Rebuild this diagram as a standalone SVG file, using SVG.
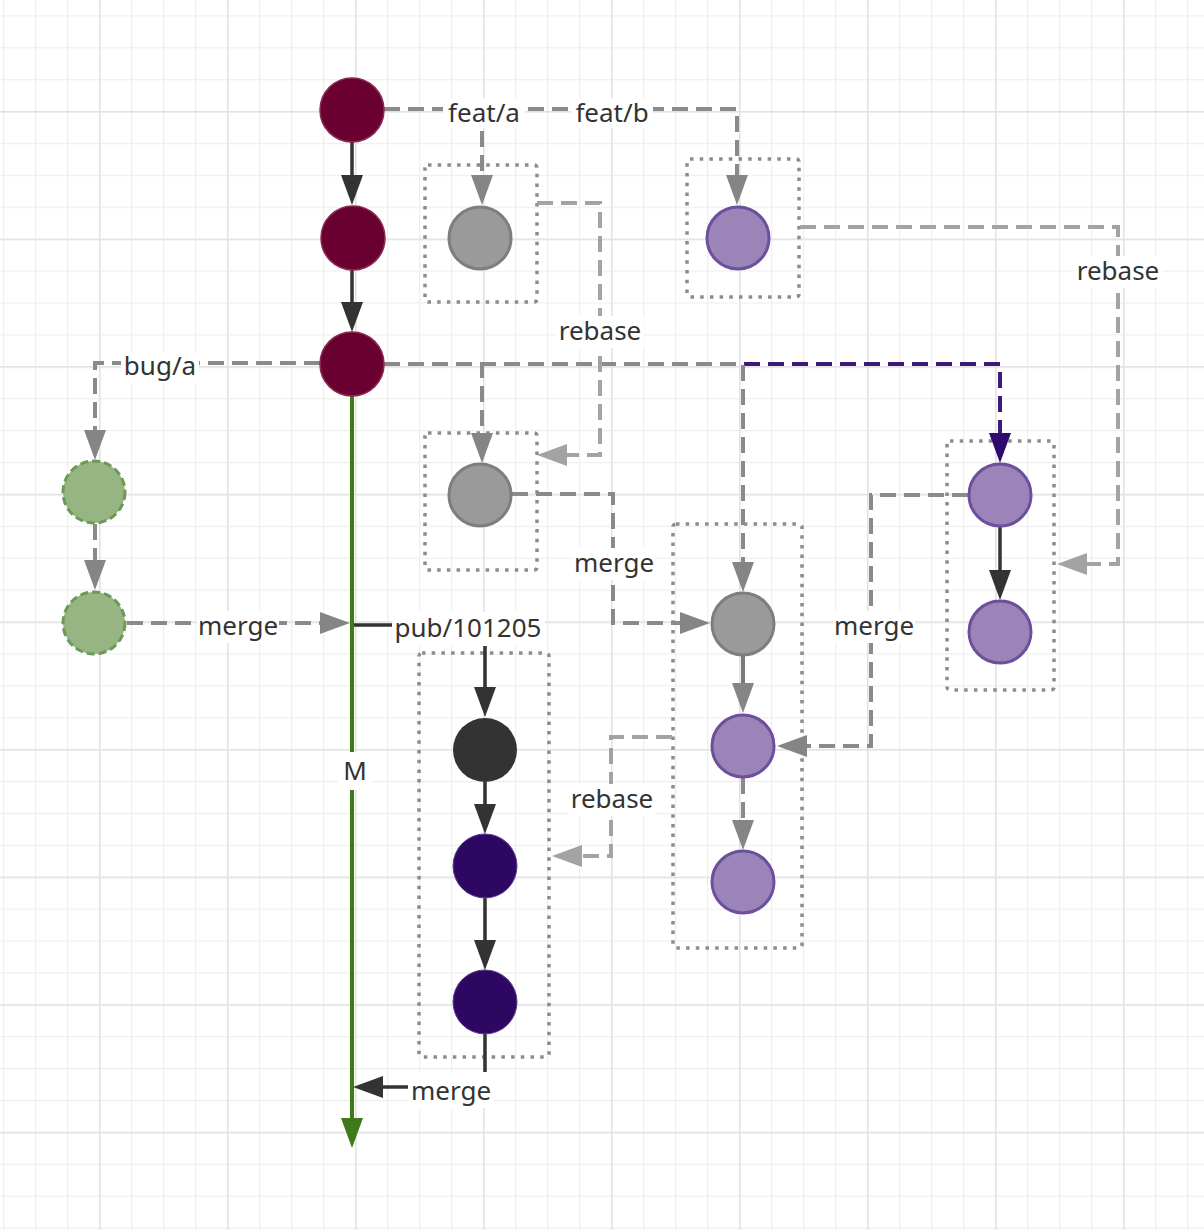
<svg xmlns="http://www.w3.org/2000/svg" width="1204" height="1230" viewBox="0 0 1204 1230">
<defs>
<pattern id="minor" width="32" height="31.9" patternUnits="userSpaceOnUse" x="3" y="15.3">
<path d="M0.5,0 V31.9 M0,0.5 H32" fill="none" stroke="#efefef" stroke-width="1.5"/>
</pattern>
<pattern id="major" width="128" height="127.6" patternUnits="userSpaceOnUse" x="99" y="111">
<path d="M0.5,0 V127.6 M0,0.5 H128" fill="none" stroke="#e2e2e2" stroke-width="2"/>
</pattern>
<marker id="aDark" markerUnits="userSpaceOnUse" markerWidth="30" markerHeight="22" refX="22" refY="11" orient="auto" viewBox="0 0 30 22"><path d="M0,0 L30,11 L0,22 z" fill="#333333"/></marker>
<marker id="aGray" markerUnits="userSpaceOnUse" markerWidth="30" markerHeight="22" refX="22" refY="11" orient="auto" viewBox="0 0 30 22"><path d="M0,0 L30,11 L0,22 z" fill="#858585"/></marker>
<marker id="aLight" markerUnits="userSpaceOnUse" markerWidth="30" markerHeight="22" refX="22" refY="11" orient="auto" viewBox="0 0 30 22"><path d="M0,0 L30,11 L0,22 z" fill="#a3a3a3"/></marker>
<marker id="aPurple" markerUnits="userSpaceOnUse" markerWidth="30" markerHeight="22" refX="22" refY="11" orient="auto" viewBox="0 0 30 22"><path d="M0,0 L30,11 L0,22 z" fill="#2e0a6e"/></marker>
<marker id="aGreen" markerUnits="userSpaceOnUse" markerWidth="30" markerHeight="22" refX="22" refY="11" orient="auto" viewBox="0 0 30 22"><path d="M0,0 L30,11 L0,22 z" fill="#3d7a1a"/></marker>
</defs>
<style>
.c{fill:none;stroke-width:4}
.dash{stroke-dasharray:16 8}
.gray{stroke:#8a8a8a}
.light{stroke:#a3a3a3}
.dark{stroke:#333333;stroke-width:3.5}
.purp{stroke:#3c1a78}
.box{fill:none;stroke:#8c8c8c;stroke-width:3.5;stroke-dasharray:3.5 6.2}
.main{fill:#6a0030;stroke:#8a2a50;stroke-width:1.5}
.grayn{fill:#9a9a9a;stroke:#7e7e7e;stroke-width:3}
.purn{fill:#9a84b8;stroke:#6c4f9d;stroke-width:3}
.grn{fill:#97b583;stroke:#6d9955;stroke-width:3;stroke-dasharray:8 4}
.lbg{fill:#ffffff}
text{font-family:"Noto Sans","Liberation Sans",sans-serif;font-size:26px;fill:#333333;text-anchor:middle}
</style>
<rect width="1204" height="1230" fill="#ffffff"/>
<rect width="1204" height="1230" fill="url(#minor)"/>
<rect width="1204" height="1230" fill="url(#major)"/>

<g id="groups">
<rect id="box-feat-a" class="box" x="425" y="165" width="112" height="137" rx="3"/>
<rect id="box-feat-b" class="box" x="687" y="159" width="112" height="138" rx="3"/>
<rect id="box-gray2" class="box" x="425" y="433" width="112" height="137" rx="3"/>
<rect id="box-mid" class="box" x="673" y="524" width="129" height="424" rx="3"/>
<rect id="box-right" class="box" x="947" y="441" width="107" height="249" rx="3"/>
<rect id="box-pub" class="box" x="419" y="653" width="130" height="404" rx="3"/>
</g>

<g id="connectors">
<path class="c dash purp" d="M384,364 H1000 V455" marker-end="url(#aPurple)"/>
<path class="c dash gray" d="M384,364 H743 V584" marker-end="url(#aGray)"/>
<path class="c dash gray" d="M384,364 H482 V455" marker-end="url(#aGray)"/>
<path class="c dash gray" d="M320,363 H95 V452" marker-end="url(#aGray)"/>
<path class="c dash gray" d="M384,109 H737 V197" marker-end="url(#aGray)"/>
<path class="c dash gray" d="M384,109 H482 V197" marker-end="url(#aGray)"/>
<path class="c dash light" d="M537,203 H600 V455 H545" marker-end="url(#aLight)"/>
<path class="c dash light" d="M800,227 H1118 V564 H1065" marker-end="url(#aLight)"/>
<path class="c dash light" d="M672,737 H611 V856 H560" marker-end="url(#aLight)"/>
<path class="c dash gray" d="M512,494 H613 V623 H702" marker-end="url(#aGray)"/>
<path class="c dash gray" d="M968,495 H871 V746 H785" marker-end="url(#aGray)"/>
<path class="c dash gray" d="M95,524 V582" marker-end="url(#aGray)"/>
<path class="c dash gray" d="M127,623 H342" marker-end="url(#aGray)"/>
<path class="c" stroke="#7a7a7a" d="M743,656 V705" marker-end="url(#aGray)"/>
<path class="c dash gray" d="M743,778 V842" marker-end="url(#aGray)"/>
<path class="c dark" d="M352,142 V197" marker-end="url(#aDark)"/>
<path class="c dark" d="M352,270 V324" marker-end="url(#aDark)"/>
<path class="c dark" d="M1000,527 V592" marker-end="url(#aDark)"/>
<path class="c" stroke="#3d7a1a" stroke-width="3.5" d="M352,396 V1140" marker-end="url(#aGreen)"/>
<path class="c dark" d="M354,625 H485 V709" marker-end="url(#aDark)"/>
<path class="c dark" d="M485,782 V826" marker-end="url(#aDark)"/>
<path class="c dark" d="M485,898 V962" marker-end="url(#aDark)"/>
<path class="c dark" d="M485,1034 V1087 H361" marker-end="url(#aDark)"/>
</g>

<g id="labels">
<rect class="lbg" x="443" y="98" width="82" height="30"/><text x="484" y="122">feat/a</text>
<rect class="lbg" x="571" y="98" width="82" height="30"/><text x="612" y="122">feat/b</text>
<rect class="lbg" x="556" y="316" width="88" height="32"/><text x="600" y="340">rebase</text>
<rect class="lbg" x="1074" y="256" width="88" height="32"/><text x="1118" y="280">rebase</text>
<rect class="lbg" x="121" y="351" width="78" height="32"/><text x="160" y="375">bug/a</text>
<rect class="lbg" x="573" y="548" width="82" height="32"/><text x="614" y="572">merge</text>
<rect class="lbg" x="197" y="611" width="82" height="32"/><text x="238" y="635">merge</text>
<rect class="lbg" x="392" y="612" width="153" height="34"/><text x="468" y="637">pub/101205</text>
<rect class="lbg" x="833" y="611" width="82" height="32"/><text x="874" y="635">merge</text>
<rect class="lbg" x="338" y="752" width="34" height="38"/><text x="355" y="780">M</text>
<rect class="lbg" x="568" y="784" width="88" height="32"/><text x="612" y="808">rebase</text>
<rect class="lbg" x="408" y="1072" width="86" height="36"/><text x="451" y="1100">merge</text>
</g>

<g id="n-main1"><circle class="main" cx="352" cy="110" r="32"/></g>
<g id="n-main2"><circle class="main" cx="353" cy="238" r="32"/></g>
<g id="n-main3"><circle class="main" cx="352" cy="364" r="32"/></g>
<g id="n-feat-a"><circle class="grayn" cx="480" cy="238" r="31"/></g>
<g id="n-feat-b"><circle class="purn" cx="738" cy="238" r="31"/></g>
<g id="n-bug1"><circle class="grn" cx="94" cy="492" r="31"/></g>
<g id="n-bug2"><circle class="grn" cx="94" cy="623" r="31"/></g>
<g id="n-gray2"><circle class="grayn" cx="480" cy="495" r="31"/></g>
<g id="n-gray3"><circle class="grayn" cx="743" cy="624" r="31"/></g>
<g id="n-purple-m1"><circle class="purn" cx="743" cy="746" r="31"/></g>
<g id="n-purple-m2"><circle class="purn" cx="743" cy="882" r="31"/></g>
<g id="n-purple-r1"><circle class="purn" cx="1000" cy="495" r="31"/></g>
<g id="n-purple-r2"><circle class="purn" cx="1000" cy="632" r="31"/></g>
<g id="n-pub1"><circle fill="#333333" cx="485" cy="750" r="32"/></g>
<g id="n-pub2"><circle fill="#2e0763" stroke="#5a3a90" stroke-width="1" cx="485" cy="866" r="32"/></g>
<g id="n-pub3"><circle fill="#2e0763" stroke="#5a3a90" stroke-width="1" cx="485" cy="1002" r="32"/></g>
</svg>
